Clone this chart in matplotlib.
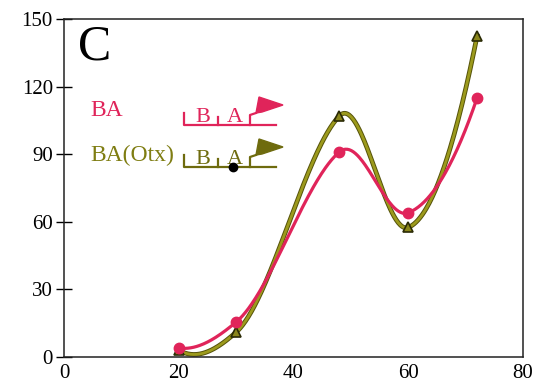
import numpy as np
import matplotlib.pyplot as plt
from matplotlib.patches import Polygon

plt.rcParams['font.family'] = ['Liberation Serif', 'DejaVu Serif']

# time points and the two measured series
x_pts = [20, 30, 48, 60, 72]
ba = [4, 15.5, 91, 64, 115]
ba_otx = [3, 11, 107, 57.5, 142.5]

x_ticks = [0, 20, 40, 60, 80]
y_ticks = [0, 30, 60, 90, 120, 150]

RED = '#e0245a'
OLIVE = '#9c9a1c'


def akima(x, y, n=300):
    # Akima tangents, cubic Hermite segments between the points
    x = np.asarray(x, float)
    y = np.asarray(y, float)
    h = np.diff(x)
    m = np.diff(y) / h
    m = np.concatenate([[3 * m[0] - 2 * m[1], 2 * m[0] - m[1]], m,
                        [2 * m[-1] - m[-2], 3 * m[-1] - 2 * m[-2]]])
    w1 = np.abs(m[3:] - m[2:-1])
    w2 = np.abs(m[1:-2] - m[:-3])
    den = w1 + w2
    t = np.where(den > 1e-9,
                 (w1 * m[1:-2] + w2 * m[2:-1]) / np.where(den > 0, den, 1),
                 0.5 * (m[1:-2] + m[2:-1]))
    xs = np.linspace(x[0], x[-1], n)
    i = np.clip(np.searchsorted(x, xs) - 1, 0, len(x) - 2)
    s = (xs - x[i]) / h[i]
    h00 = 2 * s ** 3 - 3 * s ** 2 + 1
    h10 = s ** 3 - 2 * s ** 2 + s
    h01 = -2 * s ** 3 + 3 * s ** 2
    h11 = s ** 3 - s ** 2
    ys = h00 * y[i] + h10 * h[i] * t[i] + h01 * y[i + 1] + h11 * h[i] * t[i + 1]
    return xs, ys


fig = plt.figure(figsize=(5.46, 3.9), dpi=100)
ax = fig.add_axes([64 / 546, 33 / 390, 459 / 546, 338 / 390])

xs, ys = akima(x_pts, ba)
ax.plot(xs, ys, color=RED, lw=2.3, clip_on=False, zorder=3)
ax.plot(x_pts, ba, 'o', color=RED, ms=7.5, clip_on=False, zorder=4)

xs, ys = akima(x_pts, ba_otx)
ax.plot(xs, ys, color='#55520a', lw=3.4, clip_on=False, zorder=2)
ax.plot(xs, ys, color=OLIVE, lw=2.0, clip_on=False, zorder=2)
ax.plot(x_pts, ba_otx, '^', color='#8a861a', mec='#2a2a05', mew=1.2,
        ms=7, clip_on=False, zorder=2)

ax.set_xlim(0, 80)
ax.set_ylim(0, 150)
ax.set_xticks(x_ticks)
ax.set_yticks(y_ticks)
ax.tick_params(axis='y', direction='inout', length=12, width=1,
               labelsize=15, pad=2)
ax.tick_params(axis='x', length=0, labelsize=15, pad=5)
for s in ax.spines.values():
    s.set_linewidth(1.1)
    s.set_color('#222222')

ax.text(0.03, 0.985, 'C', transform=ax.transAxes, fontsize=36,
        va='top', ha='left')


# legend labels and promoter constructs, placed in pixel coordinates
def px(x, y):
    return ((x - 64) / 459, (357 - y) / 338)


def construct(y0, color, dot=False):
    t = ax.transAxes
    kw = dict(transform=t, color=color, lw=1.6, clip_on=False)
    ax.plot(*zip(px(184, y0 - 12), px(184, y0), px(276, y0)), **kw)
    ax.plot(*zip(px(218, y0 - 8), px(218, y0)), **kw)
    ax.plot(*zip(px(250, y0), px(250, y0 - 10), px(256, y0 - 12)), **kw)
    ax.text(*px(203, y0 - 8), 'B', transform=t, color=color, fontsize=16,
            ha='center', va='center')
    ax.text(*px(235, y0 - 8), 'A', transform=t, color=color, fontsize=16,
            ha='center', va='center')
    head = [px(256, y0 - 12), px(259, y0 - 28), px(283, y0 - 20),
            px(262, y0 - 13)]
    ax.add_patch(Polygon(head, closed=True, transform=t, facecolor=color,
                         edgecolor=color, lw=1, clip_on=False))
    if dot:
        ax.plot(*px(233, y0), 'o', transform=t, color='black', ms=6,
                clip_on=False, zorder=5)


ax.text(*px(90, 111), 'BA', transform=ax.transAxes, color=RED,
        fontsize=17, va='center', ha='left')
ax.text(*px(90, 155), 'BA(Otx)', transform=ax.transAxes, color='#7f7d12',
        fontsize=17, va='center', ha='left')
construct(125, RED)
construct(167, '#6e6b0e', dot=True)

fig.savefig('out.png', dpi=100, facecolor='white')
